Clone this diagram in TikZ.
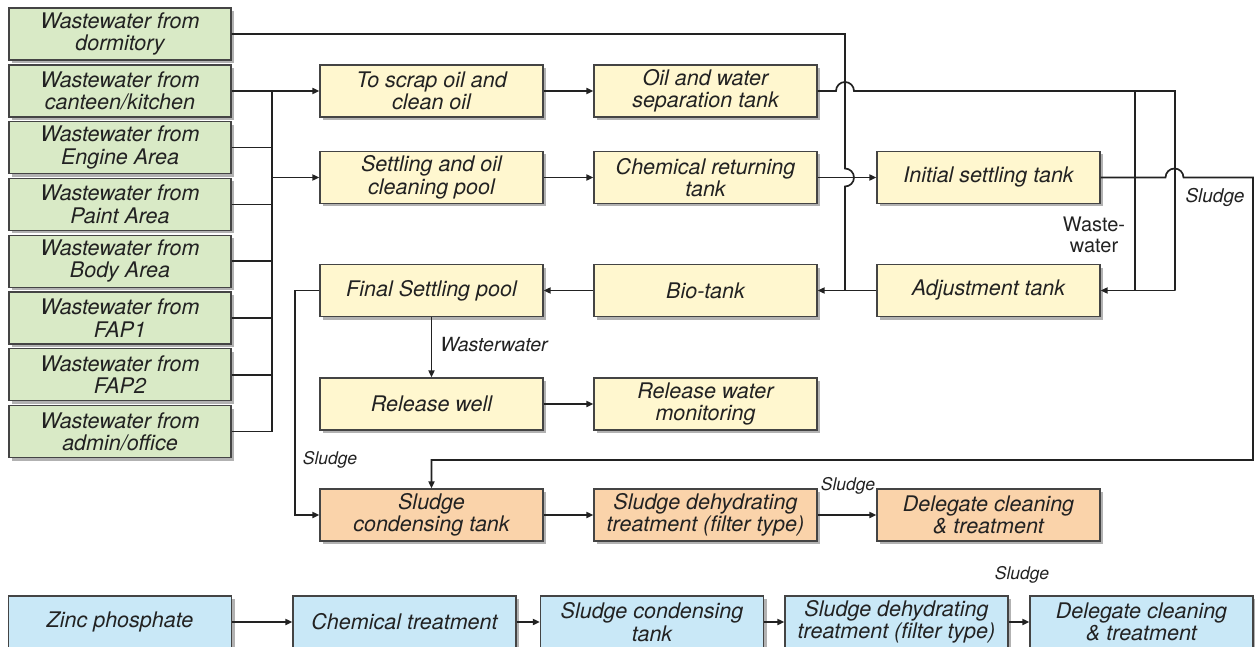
\documentclass[tikz,border=0pt]{standalone}
\usepackage{fontspec}
\setmainfont{TeX Gyre Heros}
\usetikzlibrary{shadows,arrows.meta}
\definecolor{gfill}{HTML}{D9EAC6}
\definecolor{yfill}{HTML}{FFF7CF}
\definecolor{ofill}{HTML}{FAD3AA}
\definecolor{bfill}{HTML}{C9E8F7}
\definecolor{edge}{HTML}{444444}
\definecolor{ink}{HTML}{222222}
\begin{document}
\begin{tikzpicture}[x=1pt,y=-1pt,
  box/.style={draw=edge, line width=1.2pt, minimum width=223pt, minimum height=52pt,
    align=center, inner sep=0pt, text=ink,
    font=\fontsize{21.5}{22.5}\selectfont\itshape,
    drop shadow={shadow xshift=3pt, shadow yshift=-3pt, opacity=0.3, fill=black}},
  gbox/.style={box, fill=gfill, minimum width=222pt},
  ybox/.style={box, fill=yfill},
  obox/.style={box, fill=ofill},
  bbox/.style={box, fill=bfill},
  conn/.style={line width=1.7pt, draw=ink},
  arr/.style={conn, -{Triangle[length=7pt,width=6pt]}},
  lbl/.style={text=ink, inner sep=0pt, font=\fontsize{17.5}{19}\selectfont\itshape}
]
\useasboundingbox (0,0) rectangle (1255,647);

% green sources
\node[gbox] (g1) at (120,34) {Wastewater from\\dormitory};
\node[gbox] (g2) at (120,91) {Wastewater from\\canteen/kitchen};
\node[gbox] (g3) at (120,147.6) {Wastewater from\\Engine Area};
\node[gbox] (g4) at (120,204.4) {Wastewater from\\Paint Area};
\node[gbox] (g5) at (120,261.2) {Wastewater from\\Body Area};
\node[gbox] (g6) at (120,318) {Wastewater from\\FAP1};
\node[gbox] (g7) at (120,374.8) {Wastewater from\\FAP2};
\node[gbox] (g8) at (120,431.6) {Wastewater from\\admin/office};

% yellow process
\node[ybox] (scrap) at (431.5,91) {To scrap oil and\\clean oil};
\node[ybox] (sep) at (705.5,91) {Oil and water\\separation tank};
\node[ybox] (settle) at (431.5,177.5) {Settling and oil\\cleaning pool};
\node[ybox] (chem) at (705.5,177.5) {Chemical returning\\tank};
\node[ybox] (init) at (988.5,177.5) {Initial settling tank};
\node[ybox] (final) at (431.5,290.5) {Final Settling pool};
\node[ybox] (bio) at (705.5,290.5) {Bio-tank};
\node[ybox] (adj) at (988.5,290.5) {Adjustment tank};
\node[ybox] (well) at (431.5,404) {Release well};
\node[ybox] (mon) at (705.5,404) {Release water\\monitoring};

% orange sludge
\node[obox] (sc) at (431.5,515) {Sludge\\condensing tank};
\node[obox] (sd) at (705.5,515) {Sludge dehydrating\\treatment (filter type)};
\node[obox] (dc) at (988.5,515) {Delegate cleaning\\\& treatment};

% blue zinc phosphate line
\node[bbox] (zp) at (120,622) {Zinc phosphate};
\node[bbox] (ct) at (404.5,622) {Chemical treatment};
\node[bbox] (bsc) at (652,622) {Sludge condensing\\tank};
\node[bbox] (bsd) at (896.5,622) {Sludge dehydrating\\treatment (filter type)};
\node[bbox] (bdc) at (1141.5,622) {Delegate cleaning\\\& treatment};

% helper coordinates
\coordinate (bus) at (272,0);
\coordinate (dv) at (845,0);
\coordinate (r1) at (1135,0);
\coordinate (r2) at (1175,0);
\coordinate (re) at (1253,0);
\coordinate (ls) at (295,0);

% collection bus
\draw[conn] (g2.east -| bus) -- (g8.east -| bus);
\foreach \g in {g3,g4,g5,g6,g7,g8}{\draw[conn] (\g.east) -- (\g.east -| bus);}
\draw[arr] (g2.east) -- (scrap.west);
\draw[arr] (settle.west -| bus) -- (settle.west);

% dormitory line down to bio-tank feed
\draw[conn] (g1.east) -- (g1.east -| dv) -- (845,168.5)
  arc[start angle=90,end angle=-90,radius=9pt] -- (adj.west -| dv);

% main flows
\draw[arr] (scrap.east) -- (sep.west);
\draw[arr] (settle.east) -- (chem.west);
\draw[arr] (chem.east) -- (init.west);
\draw[arr] (adj.west) -- (bio.east);
\draw[arr] (bio.west) -- (final.east);
\draw[arr] (final.south) -- (well.north)
  node[pos=0.45, right=8pt, lbl, font=\fontsize{19.5}{21}\selectfont\itshape] {Wasterwater};
\draw[arr] (well.east) -- (mon.west);

% separation tank output loop
\draw[conn] (sep.east) -- (836,91) arc[start angle=180,end angle=0,radius=9pt]
  -- (sep.east -| r2) -- (adj.east -| r2);
\draw[arr] (adj.east -| r2) -- (adj.east);
\draw[conn] (sep.east -| r1) -- (adj.east -| r1);
\node[text=ink, align=center, font=\fontsize{20}{21}\selectfont] (ww) at (1094,235) {Waste-\\water};

% initial settling sludge to sludge condensing
\draw[arr] (init.east) -- (1165.5,177.5) arc[start angle=180,end angle=0,radius=9pt]
  -- (init.east -| re) -- (1253,460) -- (sc.north |- 0,460) -- (sc.north);
\node[lbl, font=\fontsize{19}{20}\selectfont\itshape] (l1) at (1215,197) {Sludge};

% final settling sludge
\draw[arr] (final.west) -- (final.west -| ls) -- (sc.west -| ls) -- (sc.west);
\node[lbl] (l2) at (330,460) {Sludge};

% sludge chain
\draw[arr] (sc.east) -- (sd.west);
\draw[arr] (sd.east) -- (dc.west);
\node[lbl] (l3) at (848,486) {Sludge};

% blue chain
\draw[arr] (zp.east) -- (ct.west);
\draw[arr] (ct.east) -- (bsc.west);
\draw[arr] (bsc.east) -- (bsd.west);
\draw[arr] (bsd.east) -- (bdc.west);
\node[lbl] (l4) at (1022,575) {Sludge};
\end{tikzpicture}
\end{document}
